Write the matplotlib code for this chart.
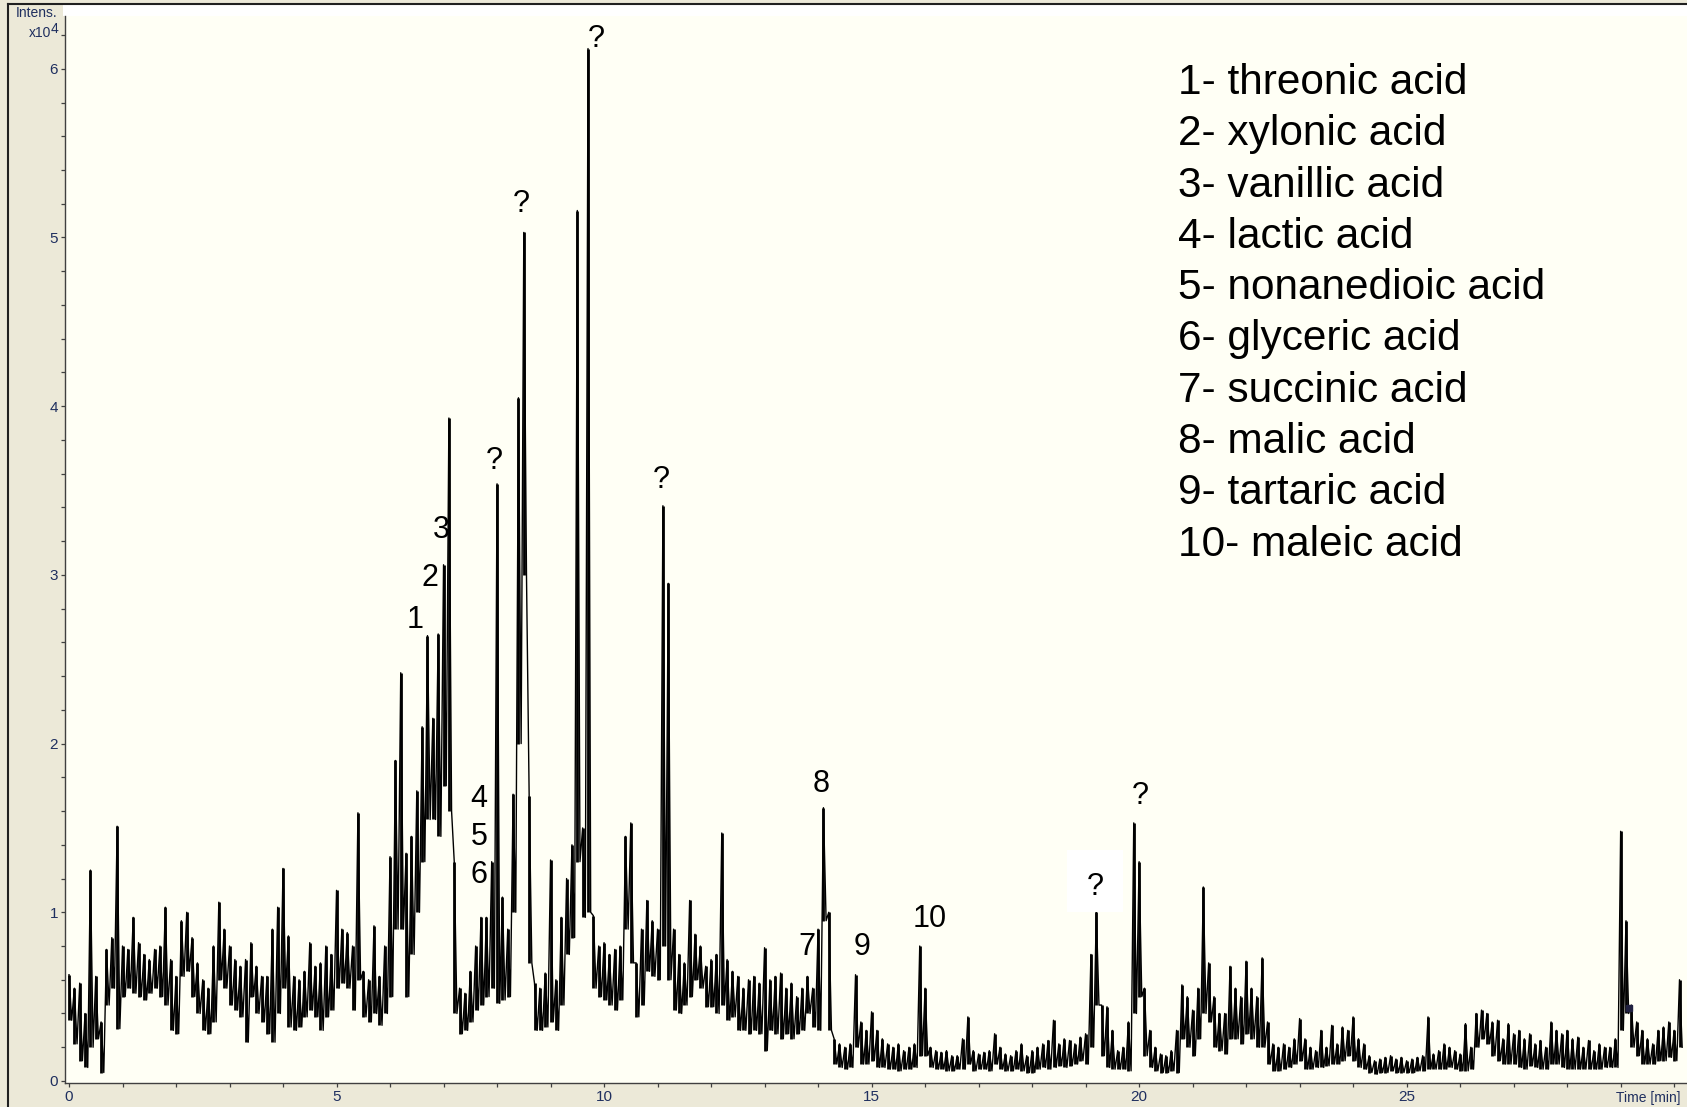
import numpy as np
import matplotlib
matplotlib.use("Agg")
import matplotlib.pyplot as plt
from matplotlib.ticker import MultipleLocator, FixedLocator
from matplotlib.lines import Line2D
from matplotlib.patches import Rectangle

# ---------------- data (intensity in units of 1e4, per 0.1 min bin) ----------------
STEP_MIN = 0.1
intens_hi = [
    # 0.0 - 0.9
    0.63, 0.55, 0.58, 0.40, 1.25, 0.62, 0.35, 0.78, 0.85, 1.51,
    # 1.0 - 1.9
    0.80, 0.78, 0.97, 0.82, 0.75, 0.72, 0.78, 0.80, 1.03, 0.72,
    # 2.0 - 2.9
    0.62, 0.95, 1.00, 0.85, 0.70, 0.60, 0.55, 0.80, 1.06, 0.90,
    # 3.0 - 3.9
    0.80, 0.72, 0.68, 0.72, 0.82, 0.68, 0.62, 0.62, 0.90, 1.03,
    # 4.0 - 4.9
    1.26, 0.86, 0.62, 0.60, 0.65, 0.82, 0.68, 0.70, 0.80, 0.75,
    # 5.0 - 5.9
    1.13, 0.90, 0.88, 0.80, 1.59, 0.65, 0.60, 0.92, 0.62, 0.80,
    # 6.0 - 6.9
    1.33, 1.90, 2.42, 1.35, 1.45, 1.72, 2.10, 2.64, 2.15, 2.65,
    # 7.0 - 7.9
    3.06, 3.93, 1.30, 0.55, 0.52, 0.65, 0.80, 0.97, 0.97, 1.30,
    # 8.0 - 8.9
    3.54, 1.09, 0.90, 1.70, 4.05, 5.03, 1.69, 0.58, 0.55, 0.64,
    # 9.0 - 9.9
    1.31, 0.60, 0.97, 1.20, 1.40, 5.16, 1.50, 6.12, 0.98, 0.80,
    # 10.0 - 10.9
    0.82, 0.75, 0.78, 0.80, 1.45, 1.53, 0.70, 0.90, 1.07, 0.95,
    # 11.0 - 11.9
    0.90, 3.41, 2.95, 0.90, 0.75, 0.70, 1.07, 0.87, 0.80, 0.68,
    # 12.0 - 12.9
    0.72, 0.75, 1.47, 0.72, 0.65, 0.62, 0.55, 0.60, 0.62, 0.58,
    # 13.0 - 13.9
    0.79, 0.60, 0.62, 0.64, 0.55, 0.58, 0.50, 0.55, 0.62, 0.55,
    # 14.0 - 14.9
    0.90, 1.62, 1.00, 0.25, 0.22, 0.20, 0.22, 0.63, 0.35, 0.30,
    # 15.0 - 15.9
    0.41, 0.30, 0.25, 0.22, 0.20, 0.22, 0.18, 0.20, 0.22, 0.80,
    # 16.0 - 16.9
    0.55, 0.20, 0.18, 0.17, 0.18, 0.15, 0.15, 0.25, 0.38, 0.18,
    # 17.0 - 17.9
    0.16, 0.17, 0.18, 0.28, 0.20, 0.16, 0.15, 0.18, 0.22, 0.15,
    # 18.0 - 18.9
    0.18, 0.20, 0.22, 0.24, 0.36, 0.22, 0.25, 0.24, 0.22, 0.26,
    # 19.0 - 19.9
    0.28, 0.75, 1.00, 0.45, 0.44, 0.30, 0.18, 0.20, 0.35, 1.53,
    # 20.0 - 20.9
    1.30, 0.55, 0.30, 0.20, 0.16, 0.15, 0.18, 0.30, 0.57, 0.50,
    # 21.0 - 21.9
    0.42, 0.55, 1.15, 0.70, 0.50, 0.40, 0.40, 0.68, 0.55, 0.50,
    # 22.0 - 22.9
    0.71, 0.55, 0.50, 0.73, 0.35, 0.22, 0.20, 0.22, 0.20, 0.25,
    # 23.0 - 23.9
    0.37, 0.25, 0.20, 0.18, 0.30, 0.20, 0.33, 0.22, 0.32, 0.30,
    # 24.0 - 24.9
    0.38, 0.25, 0.22, 0.15, 0.12, 0.13, 0.14, 0.15, 0.13, 0.14,
    # 25.0 - 25.9
    0.12, 0.13, 0.14, 0.15, 0.38, 0.16, 0.18, 0.22, 0.20, 0.18,
    # 26.0 - 26.9
    0.16, 0.34, 0.20, 0.40, 0.42, 0.40, 0.35, 0.36, 0.25, 0.34,
    # 27.0 - 27.9
    0.28, 0.30, 0.25, 0.28, 0.22, 0.24, 0.20, 0.35, 0.30, 0.28,
    # 28.0 - 28.9
    0.30, 0.25, 0.26, 0.20, 0.24, 0.18, 0.22, 0.20, 0.20, 0.25,
    # 29.0 - 29.9
    1.48, 0.95, 0.45, 0.35, 0.30, 0.25, 0.22, 0.30, 0.32, 0.35,
    # 30.0 - 30.1
    0.30, 0.60,
]
intens_lo = [
    0.36, 0.22, 0.12, 0.08, 0.20, 0.25, 0.05, 0.45, 0.55, 0.31,
    0.50, 0.55, 0.52, 0.50, 0.48, 0.52, 0.55, 0.50, 0.45, 0.30,
    0.28, 0.62, 0.65, 0.50, 0.40, 0.30, 0.28, 0.35, 0.60, 0.55,
    0.45, 0.42, 0.38, 0.23, 0.50, 0.40, 0.35, 0.28, 0.23, 0.40,
    0.55, 0.32, 0.30, 0.32, 0.38, 0.42, 0.38, 0.30, 0.38, 0.42,
    0.55, 0.58, 0.55, 0.42, 0.60, 0.38, 0.35, 0.40, 0.33, 0.40,
    0.50, 0.90, 0.90, 0.50, 0.75, 1.00, 1.30, 1.55, 1.55, 1.45,
    1.75, 1.60, 0.40, 0.28, 0.30, 0.35, 0.42, 0.45, 0.50, 0.55,
    0.46, 0.48, 0.50, 1.00, 2.00, 3.00, 0.70, 0.30, 0.30, 0.32,
    0.35, 0.30, 0.45, 0.75, 0.85, 1.30, 0.97, 1.00, 0.55, 0.50,
    0.48, 0.45, 0.42, 0.48, 0.90, 0.70, 0.38, 0.45, 0.65, 0.62,
    0.60, 0.80, 0.60, 0.42, 0.40, 0.45, 0.50, 0.60, 0.55, 0.44,
    0.44, 0.40, 0.45, 0.36, 0.38, 0.30, 0.30, 0.28, 0.30, 0.28,
    0.18, 0.30, 0.28, 0.25, 0.28, 0.25, 0.28, 0.30, 0.40, 0.32,
    0.30, 0.95, 0.30, 0.10, 0.08, 0.07, 0.08, 0.20, 0.10, 0.10,
    0.12, 0.08, 0.08, 0.07, 0.07, 0.06, 0.07, 0.07, 0.08, 0.15,
    0.15, 0.08, 0.07, 0.07, 0.06, 0.06, 0.07, 0.07, 0.10, 0.06,
    0.07, 0.07, 0.06, 0.10, 0.07, 0.06, 0.06, 0.07, 0.06, 0.05,
    0.05, 0.07, 0.08, 0.07, 0.08, 0.09, 0.08, 0.09, 0.10, 0.12,
    0.10, 0.20, 0.45, 0.15, 0.08, 0.07, 0.07, 0.07, 0.06, 0.40,
    0.50, 0.15, 0.08, 0.06, 0.05, 0.05, 0.06, 0.05, 0.25, 0.20,
    0.15, 0.25, 0.40, 0.35, 0.20, 0.18, 0.16, 0.25, 0.25, 0.22,
    0.28, 0.25, 0.20, 0.20, 0.10, 0.06, 0.06, 0.07, 0.08, 0.10,
    0.12, 0.07, 0.07, 0.08, 0.08, 0.09, 0.10, 0.10, 0.12, 0.15,
    0.12, 0.08, 0.07, 0.05, 0.04, 0.05, 0.05, 0.06, 0.05, 0.05,
    0.05, 0.05, 0.06, 0.06, 0.07, 0.07, 0.07, 0.07, 0.08, 0.07,
    0.06, 0.06, 0.07, 0.20, 0.25, 0.22, 0.15, 0.12, 0.10, 0.10,
    0.10, 0.08, 0.07, 0.09, 0.08, 0.07, 0.07, 0.10, 0.10, 0.08,
    0.07, 0.07, 0.07, 0.07, 0.07, 0.07, 0.07, 0.08, 0.08, 0.08,
    0.30, 0.40, 0.20, 0.15, 0.10, 0.10, 0.10, 0.12, 0.12, 0.14,
    0.12, 0.20,
]
times = np.round(np.arange(len(intens_hi)) * STEP_MIN, 2)

compounds = ["threonic acid", "xylonic acid", "vanillic acid", "lactic acid",
             "nonanedioic acid", "glyceric acid", "succinic acid", "malic acid",
             "tartaric acid", "maleic acid"]

# peak labels: text and position in figure pixels (x, y of text centre)
peak_texts = ["?", "?", "?", "?", "3", "2", "1", "4", "5", "6", "8", "7", "9", "10", "?"]
peak_px = [(596, 36), (521, 201), (494, 458), (661, 477), (441, 527), (430, 575),
           (415, 617), (479, 796), (479, 834), (479, 872), (821, 781), (807, 944),
           (862, 944), (930, 916), (1140, 793)]
boxed_text = "?"
boxed_px = (1095, 884)

# ---------------- layout ----------------
W, H = 1687, 1107
BG = "#ECE9D8"
PLOT_BG = "#FFFFF5"
NAVY = "#1F2F5F"
plt.rcParams["font.family"] = ["Liberation Sans", "DejaVu Sans"]

fig = plt.figure(figsize=(W / 100, H / 100), dpi=100, facecolor=BG)

def fx(px):
    return px / W

def fy(py):
    return 1 - py / H

# white strip on top of the plot area
fig.add_artist(Rectangle((fx(63), fy(16)), 1 - fx(63), (16 - 4) / H,
                         transform=fig.transFigure, facecolor="white",
                         edgecolor="none", zorder=0))

ax = fig.add_axes([fx(65), fy(1083), (W - 65) / W, (1083 - 16) / H])
ax.set_facecolor(PLOT_BG)
ax.set_xlim(-0.075, 30.24)
ax.set_ylim(-0.012, 6.313)
for s in ("top", "right"):
    ax.spines[s].set_visible(False)
for s in ("left", "bottom"):
    ax.spines[s].set_color("#404040")
    ax.spines[s].set_linewidth(1.0)

ax.xaxis.set_major_locator(FixedLocator([0, 5, 10, 15, 20, 25, 30]))
ax.set_xticklabels(["0", "5", "10", "15", "20", "25", ""])
ax.xaxis.set_minor_locator(MultipleLocator(1))
ax.yaxis.set_major_locator(FixedLocator([0, 1, 2, 3, 4, 5, 6]))
ax.set_yticklabels(["0", "1", "2", "3", "4", "5", "6"])
ax.yaxis.set_minor_locator(MultipleLocator(0.2))
ax.tick_params(which="both", direction="out", length=3, width=0.9,
               color="#404040", labelcolor=NAVY, labelsize=11, pad=2)

# trace: vertical strokes spanning each bin's min..max, joined by a zigzag line
n = len(intens_hi)
ax.vlines(times, intens_lo, intens_hi, color="black", lw=2.0, zorder=3)
xs = np.empty(2 * n)
ys = np.empty(2 * n)
xs[0::2] = times
xs[1::2] = times + STEP_MIN / 2
ys[0::2] = intens_hi
ys[1::2] = intens_lo
ax.plot(xs, ys, color="black", lw=1.0, zorder=3)

# small cursor marker near the last peak
ax.plot([29.15], [0.43], marker="s", ms=5, color="#202040", zorder=4)

# axis captions
fig.text(fx(16), fy(13), "Intens.", ha="left", va="center", fontsize=10, color=NAVY)
fig.text(fx(51), fy(33), "x10", ha="right", va="center", fontsize=10, color=NAVY)
fig.text(fx(51), fy(29), "4", ha="left", va="center", fontsize=10, color=NAVY)
fig.text(fx(1681), fy(1098), "Time [min]", ha="right", va="center", fontsize=10, color=NAVY)

# legend of compounds
for i, name in enumerate(compounds):
    fig.text(fx(1178), fy(79 + i * 51.3 + 15), f"{i + 1}- {name}",
             ha="left", va="baseline", fontsize=30.5, color="black", zorder=5)

# peak labels
for t, (px, py) in zip(peak_texts, peak_px):
    fig.text(fx(px), fy(py + 11), t, ha="center", va="baseline",
             fontsize=22, color="black", zorder=5)

fig.add_artist(Rectangle((fx(1067), fy(912)), (1123 - 1067) / W, (912 - 850) / H,
                         transform=fig.transFigure, facecolor="white",
                         edgecolor="none", zorder=6))
fig.text(fx(boxed_px[0]), fy(boxed_px[1] + 11), boxed_text, ha="center",
         va="baseline", fontsize=22, color="black", zorder=7)

# outer window border
fig.add_artist(Line2D([fx(8), fx(8)], [0, fy(4)], transform=fig.transFigure,
                      color="#202020", lw=1.5))
fig.add_artist(Line2D([fx(8), 1], [fy(4), fy(4)], transform=fig.transFigure,
                      color="#202020", lw=1.5))

fig.savefig("out.png", dpi=100, facecolor=BG)
